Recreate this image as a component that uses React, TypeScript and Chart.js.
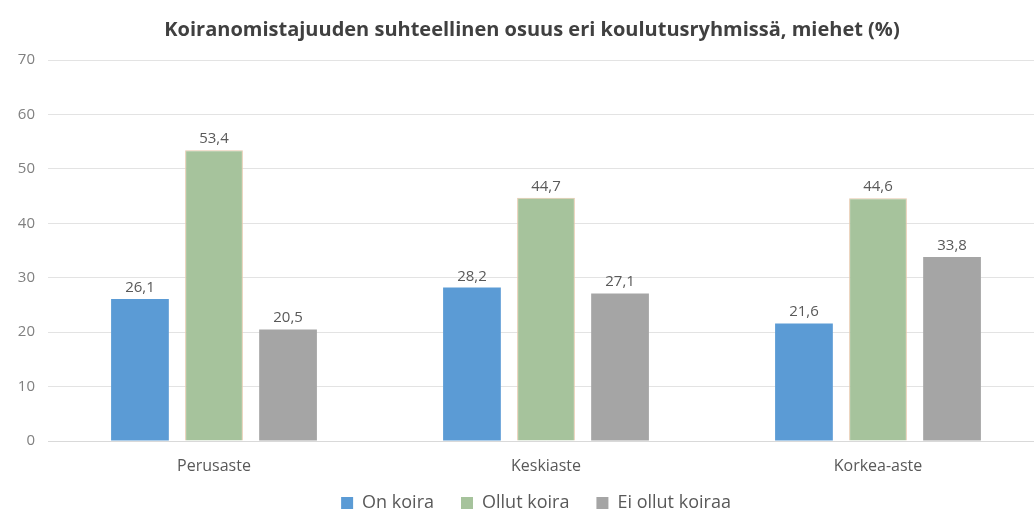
import React, { useEffect, useRef } from "react";
import { Chart, registerables } from "chart.js";

Chart.register(...registerables);

const categories = ["Perusaste", "Keskiaste", "Korkea-aste"];
const seriesNames = ["On koira", "Ollut koira", "Ei ollut koiraa"];
const onKoira = [26.1, 28.2, 21.6];
const ollutKoira = [53.4, 44.7, 44.6];
const eiOllutKoiraa = [20.5, 27.1, 33.8];
const yTicks = [0, 10, 20, 30, 40, 50, 60, 70];
const titleText = "Koiranomistajuuden suhteellinen osuus eri koulutusryhmissä, miehet (%)";

const FONT = '"Open Sans", "DejaVu Sans", sans-serif';
const LEGEND_PAD = 27;
const LEGEND_FONT = 18;

const fmt = (v: number) => v.toFixed(1).replace(".", ",");

const dataLabelPlugin = {
  id: "dataLabels",
  afterDatasetsDraw(chart: any) {
    const ctx = chart.ctx;
    ctx.save();
    ctx.font = `15px ${FONT}`;
    ctx.fillStyle = "#595959";
    ctx.textAlign = "center";
    ctx.textBaseline = "alphabetic";
    chart.data.datasets.forEach((ds: any, i: number) => {
      const meta = chart.getDatasetMeta(i);
      meta.data.forEach((el: any, j: number) => {
        ctx.fillText(fmt(ds.data[j]), el.x, el.y - 7);
      });
    });
    ctx.restore();
  },
};

const shiftPlugin = {
  id: "shiftBoxes",
  afterLayout(chart: any) {
    const t = chart.titleBlock;
    if (t) {
      t.left = 0;
      t.right = 1064;
    }
    const l = chart.legend;
    if (l) {
      l.left = 0;
      l.right = 1072;
      l.top = 503 - LEGEND_PAD - LEGEND_FONT / 2;
      l.bottom = 514;
    }
  },
};

const bgPlugin = {
  id: "bg",
  beforeDraw(chart: any) {
    const ctx = chart.ctx;
    ctx.save();
    ctx.fillStyle = "#ffffff";
    ctx.fillRect(0, 0, chart.width, chart.height);
    ctx.restore();
  },
};

export default function App() {
  const ref = useRef<HTMLCanvasElement | null>(null);

  useEffect(() => {
    if (!ref.current) return;
    const chart = new Chart(ref.current, {
      type: "bar",
      data: {
        labels: categories,
        datasets: [
          {
            label: seriesNames[0],
            data: onKoira,
            backgroundColor: "#5b9bd5",
            borderWidth: 0,
            categoryPercentage: 0.669,
            barPercentage: 0.78,
          },
          {
            label: seriesNames[1],
            data: ollutKoira,
            backgroundColor: "#a6c39c",
            borderColor: "#e6c9ad",
            borderWidth: 1,
            categoryPercentage: 0.669,
            barPercentage: 0.78,
          },
          {
            label: seriesNames[2],
            data: eiOllutKoiraa,
            backgroundColor: "#a5a5a5",
            borderWidth: 0,
            categoryPercentage: 0.669,
            barPercentage: 0.78,
          },
        ],
      },
      options: {
        responsive: false,
        animation: false,
        layout: { padding: { left: 0, right: 16, top: 0, bottom: 0 } },
        plugins: {
          title: {
            display: true,
            text: titleText,
            color: "#404040",
            font: { family: FONT, size: 20, weight: "bold" },
            padding: { top: 18, bottom: 18 },
          },
          legend: {
            display: true,
            position: "bottom",
            maxHeight: 30,
            labels: {
              boxWidth: 12,
              boxHeight: 12,
              color: "#595959",
              font: { family: FONT, size: LEGEND_FONT },
              padding: LEGEND_PAD,
              generateLabels: (c: any) =>
                c.data.datasets.map((ds: any, i: number) => ({
                  text: ds.label,
                  fillStyle: ds.backgroundColor,
                  strokeStyle: ds.backgroundColor,
                  lineWidth: 0,
                  datasetIndex: i,
                  hidden: false,
                  fontColor: "#595959",
                })),
            },
          },
          tooltip: { enabled: false },
        },
        scales: {
          x: {
            afterFit: (s: any) => {
              s.height = 43;
            },
            grid: { display: false, drawTicks: false },
            border: { display: true, color: "#d9d9d9" },
            ticks: {
              color: "#595959",
              font: { family: FONT, size: 16 },
              padding: 16,
            },
          },
          y: {
            min: 0,
            max: 70,
            afterBuildTicks: (s: any) => {
              s.ticks = yTicks.map((v) => ({ value: v }));
            },
            afterFit: (s: any) => {
              s.width = 48;
            },
            grid: { color: "#e3e3e3", drawTicks: false, lineWidth: 1 },
            border: { display: false },
            ticks: {
              color: "#808080",
              font: { family: FONT, size: 15 },
              padding: 13,
            },
          },
        },
      },
      plugins: [bgPlugin, shiftPlugin, dataLabelPlugin],
    });
    return () => chart.destroy();
  }, []);

  return (
    <div
      style={{
        position: "fixed",
        left: 0,
        top: 0,
        width: 1034,
        height: 514,
        overflow: "hidden",
        background: "#fff",
      }}
    >
      <canvas ref={ref} width={1060} height={514} style={{ display: "block" }} />
    </div>
  );
}
